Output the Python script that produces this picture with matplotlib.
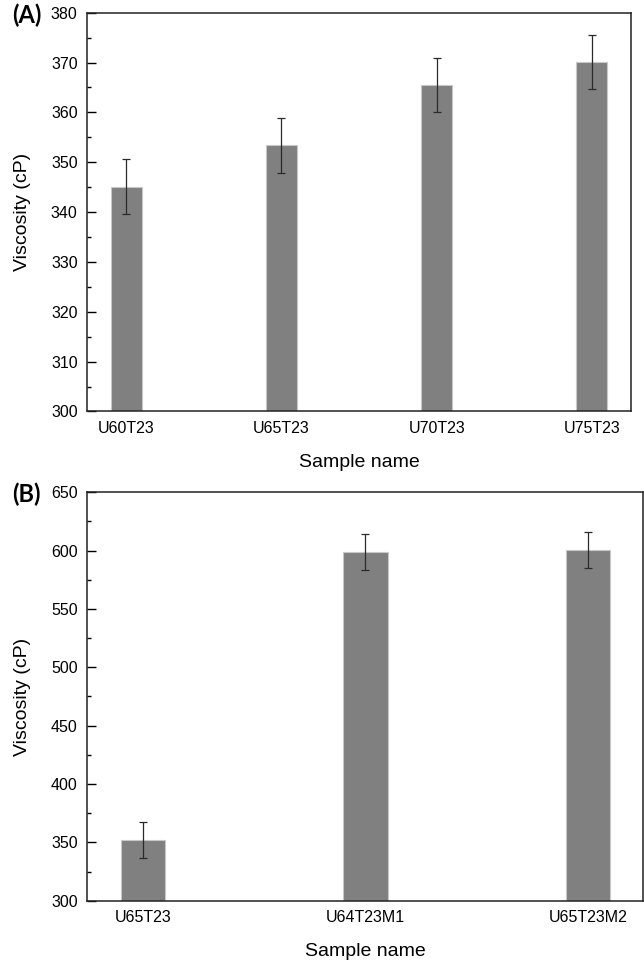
import numpy as np
import matplotlib
matplotlib.use("Agg")
import matplotlib.pyplot as plt

plt.rcParams['font.family'] = ['Liberation Sans', 'DejaVu Sans']

# panel A
names_a = ["U60T23", "U65T23", "U70T23", "U75T23"]
visc_a = [345.1, 353.4, 365.5, 370.1]
err_a = [5.5, 5.5, 5.5, 5.5]

# panel B
names_b = ["U65T23", "U64T23M1", "U65T23M2"]
visc_b = [352.3, 599.1, 600.3]
err_b = [15.5, 15.4, 15.3]

fig = plt.figure(figsize=(6.44, 9.6), dpi=100)
ax_a = fig.add_axes([0.1356, 0.5714, 0.8438, 0.4154])
ax_b = fig.add_axes([0.1356, 0.0618, 0.8634, 0.4254])


def draw(ax, names, vals, errs, ylim, step, minor):
    x = np.arange(len(names))
    ax.bar(x, [v - ylim[0] for v in vals], bottom=ylim[0], width=0.2,
           color="#808080", edgecolor="#c8c8c8", linewidth=0.8, zorder=2)
    ax.errorbar(x, vals, yerr=errs, fmt="none", ecolor="#2a2a2a",
                elinewidth=0.9, capsize=3, capthick=0.9, zorder=3)
    ax.set_xlim(-0.25, len(names) - 0.75)
    ax.set_ylim(*ylim)
    ax.set_xticks(x, labels=names)
    ax.set_yticks(np.arange(ylim[0], ylim[1] + 1, step))
    ax.set_yticks(np.arange(ylim[0], ylim[1] + 1, minor), minor=True)
    ax.tick_params(axis="x", length=0, pad=7, labelsize=11.5)
    ax.tick_params(axis="y", which="major", direction="in", length=6.5,
                   width=1, pad=7, labelsize=11.5)
    ax.tick_params(axis="y", which="minor", direction="in", length=3, width=1)
    for s in ax.spines.values():
        s.set_linewidth(1.1)
        s.set_color("#222222")
    ax.set_xlabel("Sample name", fontsize=14, labelpad=13)
    ax.set_ylabel("Viscosity (cP)", fontsize=14, labelpad=14)


draw(ax_a, names_a, visc_a, err_a, (300, 380), 10, 5)
draw(ax_b, names_b, visc_b, err_b, (300, 650), 50, 25)

fig.text(12 / 644, 1 - 15 / 960, "(A)", fontsize=17, fontweight="bold",
         family="Lato", va="center", ha="left")
fig.text(12 / 644, 1 - 494 / 960, "(B)", fontsize=17, fontweight="bold",
         family="Lato", va="center", ha="left")

fig.savefig("out.png", dpi=100)
